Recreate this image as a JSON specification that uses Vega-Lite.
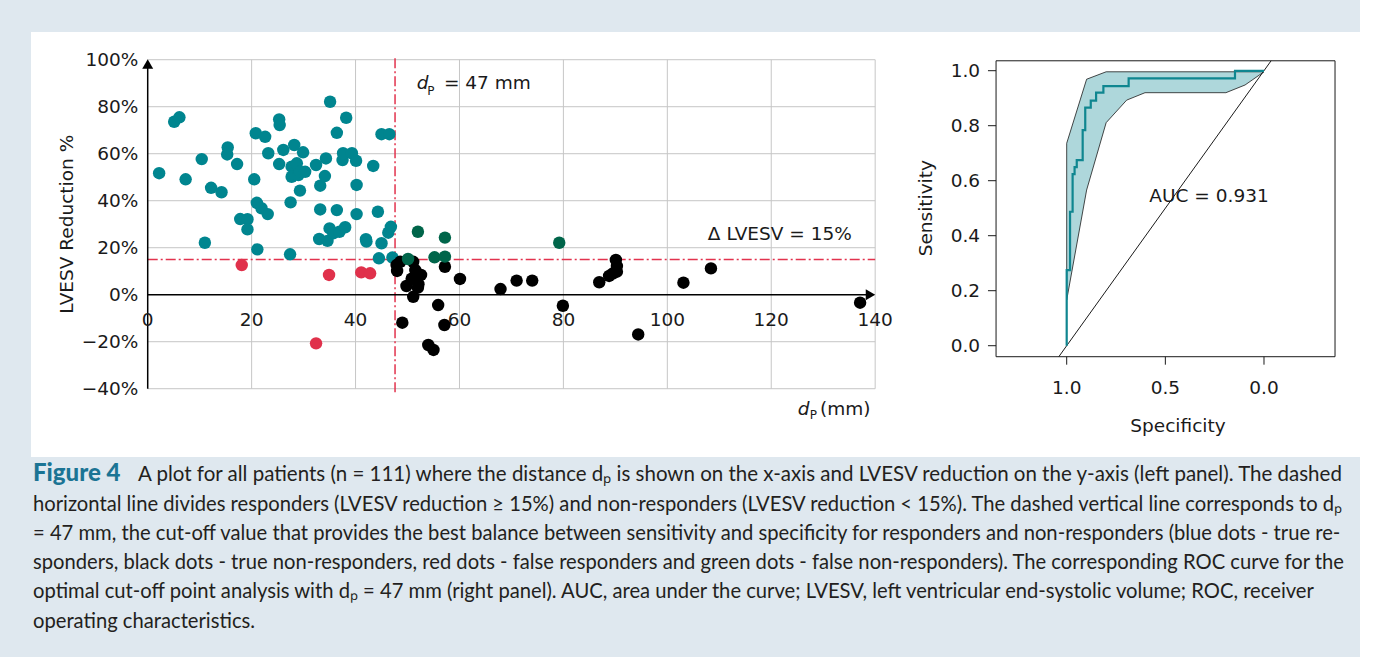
{
  "$schema": "https://vega.github.io/schema/vega-lite/v6.json",
  "background": "#dfe8ef",
  "padding": {"left": 31, "top": 32, "right": 0, "bottom": 0},
  "config": {"view": {"stroke": null}, "font": "DejaVu Sans"},
  "datasets": {
    "patients": [
      {"dp": 2.2, "red": 51.7, "group": "true responder"},
      {"dp": 5.1, "red": 73.6, "group": "true responder"},
      {"dp": 6.1, "red": 75.5, "group": "true responder"},
      {"dp": 7.3, "red": 49.1, "group": "true responder"},
      {"dp": 10.4, "red": 57.7, "group": "true responder"},
      {"dp": 11.0, "red": 22.1, "group": "true responder"},
      {"dp": 12.2, "red": 45.5, "group": "true responder"},
      {"dp": 14.2, "red": 43.6, "group": "true responder"},
      {"dp": 15.4, "red": 62.7, "group": "true responder"},
      {"dp": 15.3, "red": 59.7, "group": "true responder"},
      {"dp": 17.2, "red": 55.6, "group": "true responder"},
      {"dp": 17.8, "red": 32.2, "group": "true responder"},
      {"dp": 19.2, "red": 32.1, "group": "true responder"},
      {"dp": 19.2, "red": 27.8, "group": "true responder"},
      {"dp": 20.5, "red": 49.1, "group": "true responder"},
      {"dp": 20.8, "red": 68.7, "group": "true responder"},
      {"dp": 21.0, "red": 39.1, "group": "true responder"},
      {"dp": 21.1, "red": 19.3, "group": "true responder"},
      {"dp": 21.9, "red": 36.8, "group": "true responder"},
      {"dp": 22.6, "red": 67.2, "group": "true responder"},
      {"dp": 23.1, "red": 34.3, "group": "true responder"},
      {"dp": 23.2, "red": 60.2, "group": "true responder"},
      {"dp": 25.3, "red": 74.6, "group": "true responder"},
      {"dp": 25.4, "red": 72.2, "group": "true responder"},
      {"dp": 26.1, "red": 61.6, "group": "true responder"},
      {"dp": 25.3, "red": 55.6, "group": "true responder"},
      {"dp": 27.4, "red": 17.2, "group": "true responder"},
      {"dp": 27.5, "red": 39.3, "group": "true responder"},
      {"dp": 27.7, "red": 54.5, "group": "true responder"},
      {"dp": 27.7, "red": 50.2, "group": "true responder"},
      {"dp": 28.2, "red": 63.7, "group": "true responder"},
      {"dp": 28.7, "red": 55.9, "group": "true responder"},
      {"dp": 29.0, "red": 50.9, "group": "true responder"},
      {"dp": 29.3, "red": 52.3, "group": "true responder"},
      {"dp": 29.3, "red": 44.3, "group": "true responder"},
      {"dp": 29.9, "red": 60.6, "group": "true responder"},
      {"dp": 30.3, "red": 52.3, "group": "true responder"},
      {"dp": 32.4, "red": 55.2, "group": "true responder"},
      {"dp": 33.0, "red": 23.7, "group": "true responder"},
      {"dp": 33.2, "red": 46.4, "group": "true responder"},
      {"dp": 33.2, "red": 36.3, "group": "true responder"},
      {"dp": 34.1, "red": 50.5, "group": "true responder"},
      {"dp": 34.3, "red": 58.0, "group": "true responder"},
      {"dp": 34.6, "red": 22.9, "group": "true responder"},
      {"dp": 35.0, "red": 28.2, "group": "true responder"},
      {"dp": 35.1, "red": 82.1, "group": "true responder"},
      {"dp": 35.7, "red": 26.1, "group": "true responder"},
      {"dp": 36.4, "red": 68.9, "group": "true responder"},
      {"dp": 36.4, "red": 36.0, "group": "true responder"},
      {"dp": 36.9, "red": 26.8, "group": "true responder"},
      {"dp": 37.5, "red": 57.3, "group": "true responder"},
      {"dp": 37.6, "red": 60.2, "group": "true responder"},
      {"dp": 38.0, "red": 28.7, "group": "true responder"},
      {"dp": 38.2, "red": 75.3, "group": "true responder"},
      {"dp": 39.3, "red": 60.2, "group": "true responder"},
      {"dp": 40.1, "red": 57.0, "group": "true responder"},
      {"dp": 40.2, "red": 46.7, "group": "true responder"},
      {"dp": 40.2, "red": 34.3, "group": "true responder"},
      {"dp": 42.0, "red": 23.6, "group": "true responder"},
      {"dp": 42.1, "red": 22.6, "group": "true responder"},
      {"dp": 43.4, "red": 54.8, "group": "true responder"},
      {"dp": 44.3, "red": 35.3, "group": "true responder"},
      {"dp": 44.5, "red": 15.5, "group": "true responder"},
      {"dp": 45.0, "red": 68.3, "group": "true responder"},
      {"dp": 45.0, "red": 21.9, "group": "true responder"},
      {"dp": 46.3, "red": 26.4, "group": "true responder"},
      {"dp": 46.5, "red": 68.3, "group": "true responder"},
      {"dp": 46.8, "red": 28.9, "group": "true responder"},
      {"dp": 47.1, "red": 15.8, "group": "true responder"},
      {"dp": 18.1, "red": 12.6, "group": "false responder"},
      {"dp": 34.9, "red": 8.4, "group": "false responder"},
      {"dp": 41.1, "red": 9.5, "group": "false responder"},
      {"dp": 42.8, "red": 9.1, "group": "false responder"},
      {"dp": 32.4, "red": -20.7, "group": "false responder"},
      {"dp": 47.9, "red": 12.6, "group": "true non-responder"},
      {"dp": 48.0, "red": 10.1, "group": "true non-responder"},
      {"dp": 48.6, "red": 14.0, "group": "true non-responder"},
      {"dp": 49.0, "red": -11.9, "group": "true non-responder"},
      {"dp": 49.8, "red": 3.7, "group": "true non-responder"},
      {"dp": 50.8, "red": 6.8, "group": "true non-responder"},
      {"dp": 51.1, "red": 14.0, "group": "true non-responder"},
      {"dp": 51.1, "red": -0.9, "group": "true non-responder"},
      {"dp": 52.0, "red": 3.0, "group": "true non-responder"},
      {"dp": 52.1, "red": 4.5, "group": "true non-responder"},
      {"dp": 52.6, "red": 8.4, "group": "true non-responder"},
      {"dp": 51.5, "red": 10.5, "group": "true non-responder"},
      {"dp": 54.0, "red": -21.4, "group": "true non-responder"},
      {"dp": 55.0, "red": -23.5, "group": "true non-responder"},
      {"dp": 55.9, "red": -4.4, "group": "true non-responder"},
      {"dp": 57.1, "red": -12.9, "group": "true non-responder"},
      {"dp": 57.2, "red": 11.9, "group": "true non-responder"},
      {"dp": 60.1, "red": 6.7, "group": "true non-responder"},
      {"dp": 67.9, "red": 2.4, "group": "true non-responder"},
      {"dp": 71.0, "red": 6.0, "group": "true non-responder"},
      {"dp": 74.0, "red": 6.0, "group": "true non-responder"},
      {"dp": 79.9, "red": -4.7, "group": "true non-responder"},
      {"dp": 86.9, "red": 5.3, "group": "true non-responder"},
      {"dp": 88.8, "red": 8.0, "group": "true non-responder"},
      {"dp": 89.5, "red": 9.0, "group": "true non-responder"},
      {"dp": 90.1, "red": 14.8, "group": "true non-responder"},
      {"dp": 90.3, "red": 12.2, "group": "true non-responder"},
      {"dp": 90.3, "red": 9.8, "group": "true non-responder"},
      {"dp": 94.4, "red": -16.9, "group": "true non-responder"},
      {"dp": 103.1, "red": 5.1, "group": "true non-responder"},
      {"dp": 108.4, "red": 11.2, "group": "true non-responder"},
      {"dp": 137.1, "red": -3.4, "group": "true non-responder"},
      {"dp": 50.1, "red": 15.2, "group": "false non-responder"},
      {"dp": 52.0, "red": 26.8, "group": "false non-responder"},
      {"dp": 55.2, "red": 15.9, "group": "false non-responder"},
      {"dp": 57.2, "red": 24.3, "group": "false non-responder"},
      {"dp": 57.2, "red": 16.2, "group": "false non-responder"},
      {"dp": 79.2, "red": 22.1, "group": "false non-responder"}
    ],
    "gx": [{"v": 20}, {"v": 40}, {"v": 60}, {"v": 80}, {"v": 100}, {"v": 120}, {"v": 140}],
    "gy": [{"v": -40}, {"v": -20}, {"v": 20}, {"v": 40}, {"v": 60}, {"v": 80}, {"v": 100}],
    "xticksL": [
      {"v": 0, "label": "0"}, {"v": 20, "label": "20"}, {"v": 40, "label": "40"}, {"v": 60, "label": "60"},
      {"v": 80, "label": "80"}, {"v": 100, "label": "100"}, {"v": 120, "label": "120"}, {"v": 140, "label": "140"}
    ],
    "yticksL": [
      {"v": -40, "label": "−40%"}, {"v": -20, "label": "−20%"}, {"v": 0, "label": "0%"}, {"v": 20, "label": "20%"},
      {"v": 40, "label": "40%"}, {"v": 60, "label": "60%"}, {"v": 80, "label": "80%"}, {"v": 100, "label": "100%"}
    ],
    "sensTicks": [
      {"v": 0, "label": "0.0"}, {"v": 0.2, "label": "0.2"}, {"v": 0.4, "label": "0.4"},
      {"v": 0.6, "label": "0.6"}, {"v": 0.8, "label": "0.8"}, {"v": 1, "label": "1.0"}
    ],
    "specTicks": [
      {"v": 0, "label": "0.0"}, {"v": 0.5, "label": "0.5"}, {"v": 1, "label": "1.0"}
    ],
    "roc": [
      {"i": 0, "spec": 1.0, "sens": 0.0},
      {"i": 1, "spec": 1.0, "sens": 0.275},
      {"i": 2, "spec": 0.983, "sens": 0.275},
      {"i": 3, "spec": 0.983, "sens": 0.487},
      {"i": 4, "spec": 0.970, "sens": 0.487},
      {"i": 5, "spec": 0.970, "sens": 0.624},
      {"i": 6, "spec": 0.960, "sens": 0.624},
      {"i": 7, "spec": 0.960, "sens": 0.649},
      {"i": 8, "spec": 0.949, "sens": 0.649},
      {"i": 9, "spec": 0.949, "sens": 0.675},
      {"i": 10, "spec": 0.919, "sens": 0.675},
      {"i": 11, "spec": 0.919, "sens": 0.784},
      {"i": 12, "spec": 0.906, "sens": 0.784},
      {"i": 13, "spec": 0.906, "sens": 0.866},
      {"i": 14, "spec": 0.878, "sens": 0.866},
      {"i": 15, "spec": 0.878, "sens": 0.891},
      {"i": 16, "spec": 0.851, "sens": 0.891},
      {"i": 17, "spec": 0.851, "sens": 0.920},
      {"i": 18, "spec": 0.814, "sens": 0.920},
      {"i": 19, "spec": 0.814, "sens": 0.944},
      {"i": 20, "spec": 0.686, "sens": 0.944},
      {"i": 21, "spec": 0.686, "sens": 0.972},
      {"i": 22, "spec": 0.147, "sens": 0.972},
      {"i": 23, "spec": 0.147, "sens": 0.999},
      {"i": 24, "spec": 0.0, "sens": 0.999}
    ],
    "ci": [
      {"i": 0, "spec": 1.0, "sens": 0.736},
      {"i": 1, "spec": 0.899, "sens": 0.969},
      {"i": 2, "spec": 0.80, "sens": 0.996},
      {"i": 3, "spec": 0.0, "sens": 0.996},
      {"i": 4, "spec": 0.096, "sens": 0.948},
      {"i": 5, "spec": 0.193, "sens": 0.92},
      {"i": 6, "spec": 0.603, "sens": 0.92},
      {"i": 7, "spec": 0.696, "sens": 0.893},
      {"i": 8, "spec": 0.80, "sens": 0.811},
      {"i": 9, "spec": 0.899, "sens": 0.566},
      {"i": 10, "spec": 1.0, "sens": 0.166},
      {"i": 11, "spec": 1.0, "sens": 0.736}
    ],
    "diag": [
      {"i": 0, "spec": 1.04, "sens": -0.04},
      {"i": 1, "spec": -0.036, "sens": 1.036}
    ],
    "caption": [
      {"line": 1, "text": "A plot for all patients (n = 111) where the distance dₚ is shown on the x-axis and LVESV reduction on the y-axis (left panel). The dashed"},
      {"line": 2, "text": "horizontal line divides responders (LVESV reduction ≥ 15%) and non-responders (LVESV reduction < 15%). The dashed vertical line corresponds to dₚ"},
      {"line": 3, "text": "= 47 mm, the cut-off value that provides the best balance between sensitivity and specificity for responders and non-responders (blue dots - true re-"},
      {"line": 4, "text": "sponders, black dots - true non-responders, red dots - false responders and green dots - false non-responders). The corresponding ROC curve for the"},
      {"line": 5, "text": "optimal cut-off point analysis with dₚ = 47 mm (right panel). AUC, area under the curve; LVESV, left ventricular end-systolic volume; ROC, receiver"},
      {"line": 6, "text": "operating characteristics."}
    ]
  },
  "spacing": 0,
  "vconcat": [
    {
      "spacing": 0,
      "hconcat": [
        {
          "width": 873,
          "height": 425,
          "view": {"fill": "white", "stroke": null},
          "layer": [
            {
              "data": {"name": "gx"},
              "mark": {"type": "rule", "color": "#c6c6c6", "strokeWidth": 1},
              "encoding": {
                "x": {"field": "v", "type": "quantitative", "axis": null},
                "y": {"datum": -40, "axis": null},
                "y2": {"datum": 100}
              }
            },
            {
              "data": {"name": "gy"},
              "mark": {"type": "rule", "color": "#c6c6c6", "strokeWidth": 1},
              "encoding": {
                "y": {"field": "v", "type": "quantitative", "axis": null},
                "x": {"datum": 0, "axis": null},
                "x2": {"datum": 140}
              }
            },
            {
              "data": {"values": [{}]},
              "mark": {"type": "rule", "color": "#e2334e", "strokeWidth": 1.5, "strokeDash": [10, 3, 2, 3]},
              "encoding": {
                "x": {"datum": 47.6, "axis": null},
                "y": {"datum": -41.5, "axis": null},
                "y2": {"datum": 101.5}
              }
            },
            {
              "data": {"values": [{}]},
              "mark": {"type": "rule", "color": "#e2334e", "strokeWidth": 1.5, "strokeDash": [10, 3, 2, 3]},
              "encoding": {
                "y": {"datum": 15, "axis": null},
                "x": {"datum": 0, "axis": null},
                "x2": {"datum": 140}
              }
            },
            {
              "data": {"values": [{}]},
              "mark": {"type": "rule", "color": "black", "strokeWidth": 1.5},
              "encoding": {
                "x": {"datum": 0, "axis": null},
                "y": {"datum": -40, "axis": null},
                "y2": {"datum": 97}
              }
            },
            {
              "data": {"values": [{}]},
              "mark": {"type": "rule", "color": "black", "strokeWidth": 1.5},
              "encoding": {
                "y": {"datum": 0, "axis": null},
                "x": {"datum": 0, "axis": null},
                "x2": {"datum": 138.5}
              }
            },
            {
              "data": {"name": "xticksL"},
              "mark": {"type": "text", "font": "DejaVu Sans", "fontSize": 18.5, "align": "center", "baseline": "middle", "color": "#1a1a1a"},
              "encoding": {
                "x": {"field": "v", "type": "quantitative", "axis": null},
                "y": {"datum": -10.8, "axis": null},
                "text": {"field": "label"}
              }
            },
            {
              "data": {"name": "yticksL"},
              "mark": {"type": "text", "font": "DejaVu Sans", "fontSize": 18.5, "align": "right", "baseline": "middle", "color": "#1a1a1a"},
              "encoding": {
                "y": {"field": "v", "type": "quantitative", "axis": null},
                "x": {"datum": -1.8, "axis": null},
                "text": {"field": "label"}
              }
            },
            {
              "data": {"name": "patients"},
              "mark": {"type": "circle", "size": 155, "opacity": 1},
              "encoding": {
                "x": {
                  "field": "dp", "type": "quantitative",
                  "scale": {"domain": [-22.46, 145.55], "nice": false, "zero": false},
                  "axis": null
                },
                "y": {
                  "field": "red", "type": "quantitative",
                  "scale": {"domain": [-69.06, 111.79], "nice": false, "zero": false},
                  "axis": null
                },
                "color": {
                  "field": "group", "type": "nominal", "legend": null,
                  "scale": {
                    "domain": ["true responder", "false responder", "true non-responder", "false non-responder"],
                    "range": ["#00858f", "#e0314b", "#000000", "#00654a"]
                  }
                }
              }
            },
            {
              "data": {"values": [{}]},
              "mark": {"type": "point", "shape": "triangle-up", "filled": true, "color": "black", "size": 120, "opacity": 1},
              "encoding": {"x": {"datum": 0, "axis": null}, "y": {"datum": 98.2, "axis": null}}
            },
            {
              "data": {"values": [{}]},
              "mark": {"type": "point", "shape": "triangle-right", "filled": true, "color": "black", "size": 120, "opacity": 1},
              "encoding": {"x": {"datum": 139.1, "axis": null}, "y": {"datum": 0, "axis": null}}
            },
            {
              "data": {"values": [{}]},
              "mark": {"type": "text", "font": "DejaVu Sans", "fontSize": 18.5, "fontStyle": "italic", "align": "left", "baseline": "alphabetic", "color": "#1a1a1a"},
              "encoding": {"x": {"datum": 51.8, "axis": null}, "y": {"datum": 87.4, "axis": null}, "text": {"value": "d"}}
            },
            {
              "data": {"values": [{}]},
              "mark": {"type": "text", "font": "DejaVu Sans", "fontSize": 12, "align": "left", "baseline": "alphabetic", "color": "#1a1a1a"},
              "encoding": {"x": {"datum": 53.8, "axis": null}, "y": {"datum": 85.0, "axis": null}, "text": {"value": "P"}}
            },
            {
              "data": {"values": [{}]},
              "mark": {"type": "text", "font": "DejaVu Sans", "fontSize": 18.5, "align": "left", "baseline": "alphabetic", "color": "#1a1a1a"},
              "encoding": {"x": {"datum": 57.0, "axis": null}, "y": {"datum": 87.4, "axis": null}, "text": {"value": "= 47 mm"}}
            },
            {
              "data": {"values": [{}]},
              "mark": {"type": "text", "font": "DejaVu Sans", "fontSize": 18.5, "align": "right", "baseline": "alphabetic", "color": "#1a1a1a"},
              "encoding": {"x": {"datum": 135.5, "axis": null}, "y": {"datum": 23.3, "axis": null}, "text": {"value": "Δ LVESV = 15%"}}
            },
            {
              "data": {"values": [{}]},
              "mark": {"type": "text", "font": "DejaVu Sans", "fontSize": 18.5, "align": "center", "baseline": "alphabetic", "angle": 270, "color": "#1a1a1a"},
              "encoding": {"x": {"datum": -14.4, "axis": null}, "y": {"datum": 30, "axis": null}, "text": {"value": "LVESV Reduction %"}}
            },
            {
              "data": {"values": [{}]},
              "mark": {"type": "text", "font": "DejaVu Sans", "fontSize": 18.5, "fontStyle": "italic", "align": "left", "baseline": "alphabetic", "color": "#1a1a1a"},
              "encoding": {"x": {"datum": 125.1, "axis": null}, "y": {"datum": -51.2, "axis": null}, "text": {"value": "d"}}
            },
            {
              "data": {"values": [{}]},
              "mark": {"type": "text", "font": "DejaVu Sans", "fontSize": 12, "align": "left", "baseline": "alphabetic", "color": "#1a1a1a"},
              "encoding": {"x": {"datum": 127.4, "axis": null}, "y": {"datum": -53.0, "axis": null}, "text": {"value": "P"}}
            },
            {
              "data": {"values": [{}]},
              "mark": {"type": "text", "font": "DejaVu Sans", "fontSize": 18.5, "align": "left", "baseline": "alphabetic", "color": "#1a1a1a"},
              "encoding": {"x": {"datum": 129.4, "axis": null}, "y": {"datum": -51.2, "axis": null}, "text": {"value": "(mm)"}}
            }
          ]
        },
        {
          "width": 456,
          "height": 425,
          "view": {"fill": "white", "stroke": null},
          "layer": [
            {
              "data": {"name": "ci"},
              "mark": {"type": "line", "fill": "#aed7db", "stroke": "#1a1a1a", "strokeWidth": 0.8},
              "encoding": {
                "x": {"field": "spec", "type": "quantitative", "axis": null},
                "y": {"field": "sens", "type": "quantitative", "axis": null},
                "order": {"field": "i"}
              }
            },
            {
              "data": {"name": "diag"},
              "mark": {"type": "line", "color": "#1a1a1a", "strokeWidth": 1},
              "encoding": {
                "x": {"field": "spec", "type": "quantitative", "axis": null},
                "y": {"field": "sens", "type": "quantitative", "axis": null},
                "order": {"field": "i"}
              }
            },
            {
              "data": {"name": "roc"},
              "mark": {"type": "line", "color": "#0f8690", "strokeWidth": 2.2},
              "encoding": {
                "x": {
                  "field": "spec", "type": "quantitative",
                  "scale": {"domain": [-0.4866, 1.8246], "reverse": true, "nice": false, "zero": false},
                  "axis": null
                },
                "y": {
                  "field": "sens", "type": "quantitative",
                  "scale": {"domain": [-0.4047, 1.1407], "nice": false, "zero": false},
                  "axis": null
                },
                "order": {"field": "i"}
              }
            },
            {
              "data": {"values": [{}]},
              "mark": {"type": "rect", "fillOpacity": 0, "stroke": "#1a1a1a", "strokeWidth": 1},
              "encoding": {
                "x": {"datum": -0.36, "axis": null},
                "x2": {"datum": 1.358},
                "y": {"datum": -0.04, "axis": null},
                "y2": {"datum": 1.036}
              }
            },
            {
              "data": {"name": "sensTicks"},
              "mark": {"type": "rule", "color": "#1a1a1a", "strokeWidth": 1},
              "encoding": {
                "y": {"field": "v", "type": "quantitative", "axis": null},
                "x": {"datum": 1.358, "axis": null},
                "x2": {"datum": 1.399}
              }
            },
            {
              "data": {"name": "sensTicks"},
              "mark": {"type": "text", "font": "DejaVu Sans", "fontSize": 18.5, "align": "right", "baseline": "middle", "color": "#1a1a1a"},
              "encoding": {
                "y": {"field": "v", "type": "quantitative", "axis": null},
                "x": {"datum": 1.439, "axis": null},
                "text": {"field": "label"}
              }
            },
            {
              "data": {"name": "specTicks"},
              "mark": {"type": "rule", "color": "#1a1a1a", "strokeWidth": 1},
              "encoding": {
                "x": {"field": "v", "type": "quantitative", "axis": null},
                "y": {"datum": -0.04, "axis": null},
                "y2": {"datum": -0.069}
              }
            },
            {
              "data": {"name": "specTicks"},
              "mark": {"type": "text", "font": "DejaVu Sans", "fontSize": 18.5, "align": "center", "baseline": "middle", "color": "#1a1a1a"},
              "encoding": {
                "x": {"field": "v", "type": "quantitative", "axis": null},
                "y": {"datum": -0.152, "axis": null},
                "text": {"field": "label"}
              }
            },
            {
              "data": {"values": [{}]},
              "mark": {"type": "text", "font": "DejaVu Sans", "fontSize": 18.5, "align": "left", "baseline": "alphabetic", "color": "#1a1a1a"},
              "encoding": {"x": {"datum": 0.581, "axis": null}, "y": {"datum": 0.524, "axis": null}, "text": {"value": "AUC = 0.931"}}
            },
            {
              "data": {"values": [{}]},
              "mark": {"type": "text", "font": "DejaVu Sans", "fontSize": 18.5, "align": "center", "baseline": "alphabetic", "angle": 270, "color": "#1a1a1a"},
              "encoding": {"x": {"datum": 1.683, "axis": null}, "y": {"datum": 0.5, "axis": null}, "text": {"value": "Sensitivity"}}
            },
            {
              "data": {"values": [{}]},
              "mark": {"type": "text", "font": "DejaVu Sans", "fontSize": 18.5, "align": "center", "baseline": "alphabetic", "color": "#1a1a1a"},
              "encoding": {"x": {"datum": 0.436, "axis": null}, "y": {"datum": -0.313, "axis": null}, "text": {"value": "Specificity"}}
            }
          ]
        }
      ]
    },
    {
      "width": 1329,
      "height": 200,
      "layer": [
        {
          "data": {"values": [{}]},
          "mark": {"type": "text", "font": "Lato", "fontSize": 24, "fontWeight": 900, "align": "left", "baseline": "alphabetic", "color": "#1b7494", "dx": 2},
          "encoding": {
            "x": {"datum": 0, "axis": null},
            "y": {"datum": 1, "axis": null},
            "text": {"value": "Figure 4"}
          }
        },
        {
          "data": {"name": "caption"},
          "transform": [{"filter": "datum.line == 1"}],
          "mark": {"type": "text", "font": "Lato", "fontSize": 20.5, "align": "left", "baseline": "alphabetic", "color": "#231f20", "dx": 107},
          "encoding": {
            "x": {"datum": 0, "axis": null},
            "y": {"field": "line", "type": "quantitative", "axis": null},
            "text": {"field": "text"}
          }
        },
        {
          "data": {"name": "caption"},
          "transform": [{"filter": "datum.line > 1"}],
          "mark": {"type": "text", "font": "Lato", "fontSize": 20.2, "align": "left", "baseline": "alphabetic", "color": "#231f20", "dx": 2},
          "encoding": {
            "x": {"datum": 0, "axis": null, "scale": {"domain": [0, 1], "nice": false, "zero": false}},
            "y": {"field": "line", "type": "quantitative", "axis": null, "scale": {"domain": [0.1706, 6.997], "reverse": true, "nice": false, "zero": false}},
            "text": {"field": "text"}
          }
        }
      ]
    }
  ]
}
